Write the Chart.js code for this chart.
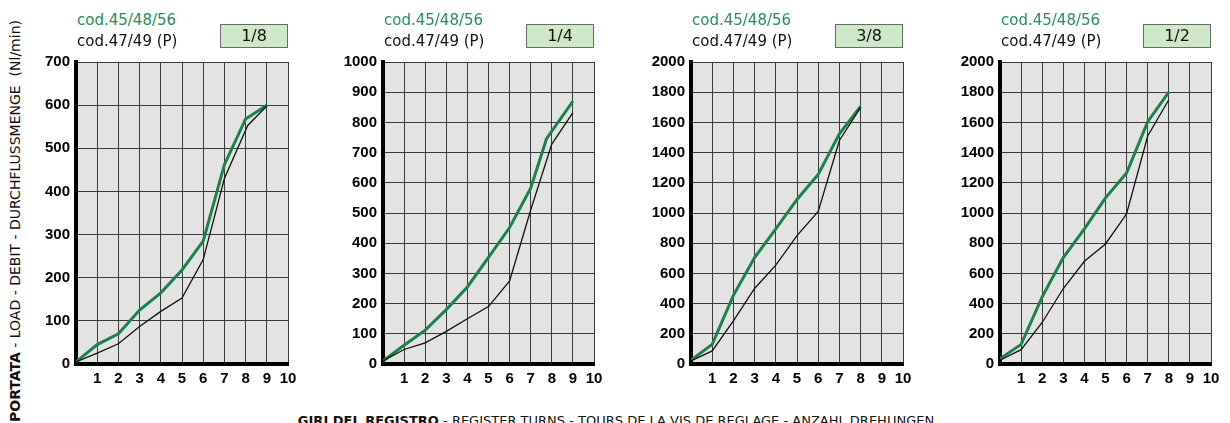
<!DOCTYPE html>
<html>
<head>
<meta charset="utf-8">
<script src="https://cdn.jsdelivr.net/npm/chart.js@4.4.1/dist/chart.umd.min.js"></script>
<style>
  html, body { margin: 0; padding: 0; background: #fff; }
  body { width: 1230px; height: 423px; position: relative; overflow: hidden; font-family: "DejaVu Sans", sans-serif; }
  .wrap { position: absolute; }
  .cod1 { position: absolute; font-size: 15px; color: #23905a; white-space: nowrap; line-height: 18px; }
  .cod2 { position: absolute; font-size: 15px; color: #111; white-space: nowrap; line-height: 18px; }
  .box { position: absolute; width: 66px; height: 22px; background: #cfe8c9; border: 1px solid #6a6a6a; font-size: 16px; line-height: 22px; text-align: center; color: #111; }
  .ytitle { position: absolute; width: 440px; height: 18px; line-height: 18px; font-size: 14px; text-align: center; white-space: nowrap; transform: rotate(-90deg); color: #111; }
  .xtitle { position: absolute; width: 800px; font-size: 13px; line-height: 16px; text-align: center; white-space: nowrap; color: #111; }
</style>
</head>
<body>
<div class="ytitle" id="ytitle" style="left:-205px; top:212px;"><b>PORTATA</b> - LOAD - DEBIT - DURCHFLUSSMENGE&nbsp;&nbsp;(Nl/min)</div>
<div class="xtitle" style="left:216px; top:413px;"><b>GIRI DEL REGISTRO</b> - REGISTER TURNS - TOURS DE LA VIS DE REGLAGE - ANZAHL DREHUNGEN</div>
<script>
// ---------- DATA ----------
const panelTitles = ["1/8", "1/4", "3/8", "1/2"];
const seriesGreenName = "cod.45/48/56";
const seriesBlackName = "cod.47/49 (P)";
const xTickLabels = ["", "1", "2", "3", "4", "5", "6", "7", "8", "9", "10"];

const yMax = [700, 1000, 2000, 2000];
const yStep = [100, 100, 200, 200];

// panel 1/8
const p1GreenX = [0, 1, 2, 3, 4, 5, 6, 7, 8, 9];
const p1Green  = [5, 45, 70, 125, 165, 218, 285, 462, 568, 600];
const p1BlackX = [0, 1, 2, 3, 4, 5, 6, 7, 8.1, 9];
const p1Black  = [5, 25, 47, 87, 122, 153, 242, 430, 553, 598];

// panel 1/4
const p2GreenX = [0, 1, 2, 3, 4, 5, 6, 7, 7.75, 9];
const p2Green  = [10, 62, 112, 180, 255, 353, 452, 582, 746, 870];
const p2BlackX = [0, 1, 2, 3, 4, 5, 6, 7, 8, 9];
const p2Black  = [10, 48, 70, 108, 150, 190, 275, 510, 728, 832];

// panel 3/8
const p3GreenX = [0, 1, 2, 3, 4, 5, 6, 7, 8];
const p3Green  = [25, 130, 455, 705, 895, 1090, 1255, 1525, 1705];
const p3BlackX = [0, 1, 2, 3, 4, 5, 6, 7, 8];
const p3Black  = [20, 87, 285, 500, 655, 850, 1010, 1480, 1700];

// panel 1/2
const p4GreenX = [0, 1, 2, 3, 4, 5, 6, 7, 8];
const p4Green  = [35, 130, 445, 705, 895, 1100, 1265, 1605, 1800];
const p4BlackX = [0, 1, 2, 3, 4, 5, 6, 7, 8];
const p4Black  = [25, 95, 275, 500, 680, 795, 995, 1510, 1750];

const greenXs = [p1GreenX, p2GreenX, p3GreenX, p4GreenX];
const greenYs = [p1Green, p2Green, p3Green, p4Green];
const blackXs = [p1BlackX, p2BlackX, p3BlackX, p4BlackX];
const blackYs = [p1Black, p2Black, p3Black, p4Black];

// ---------- LAYOUT ----------
const plotLeft  = [76, 383, 691, 1000];
const plotRight = [288, 594, 903, 1211];
const plotTop = 57, plotBottom = 364;
const YW = 60, XH = 26, PT = 10, PR = 22;

const bgPlugin = {
  id: 'plotBg',
  beforeDraw(chart) {
    const a = chart.chartArea, c = chart.ctx;
    c.save(); c.fillStyle = '#e3e3e3';
    c.fillRect(a.left, a.top, a.right - a.left, a.bottom - a.top);
    c.restore();
  }
};

function toPts(xs, ys) { return xs.map((x, i) => ({ x: x, y: ys[i] })); }

const tickFont = { family: '"Liberation Sans", Arial, sans-serif', weight: 'bold', size: 15 };

for (let p = 0; p < 4; p++) {
  const w = plotRight[p] - plotLeft[p] + YW + PR;
  const h = plotBottom - plotTop + PT + XH;
  const div = document.createElement('div');
  div.className = 'wrap';
  div.style.left = (plotLeft[p] - YW) + 'px';
  div.style.top = (plotTop - PT) + 'px';
  div.style.width = w + 'px';
  div.style.height = h + 'px';
  const cv = document.createElement('canvas');
  cv.width = w; cv.height = h;
  cv.style.width = w + 'px'; cv.style.height = h + 'px';
  div.appendChild(cv);
  document.body.appendChild(div);

  const l1 = document.createElement('div');
  l1.className = 'cod1'; l1.textContent = seriesGreenName;
  l1.style.left = (plotLeft[p] + 1) + 'px'; l1.style.top = '11px';
  document.body.appendChild(l1);
  const l2 = document.createElement('div');
  l2.className = 'cod2'; l2.textContent = seriesBlackName;
  l2.style.left = (plotLeft[p] + 1) + 'px'; l2.style.top = '32px';
  document.body.appendChild(l2);
  const bx = document.createElement('div');
  bx.className = 'box'; bx.textContent = panelTitles[p];
  bx.style.left = (plotRight[p] - 68) + 'px'; bx.style.top = '24px';
  document.body.appendChild(bx);

  new Chart(cv, {
    type: 'line',
    data: {
      datasets: [
        { label: seriesBlackName, data: toPts(blackXs[p], blackYs[p]), borderColor: '#111', borderWidth: 1.3, pointRadius: 0, tension: 0, fill: false },
        { label: seriesGreenName, data: toPts(greenXs[p], greenYs[p]), borderColor: '#1b8249', borderWidth: 3, pointRadius: 0, tension: 0, fill: false }
      ]
    },
    options: {
      responsive: false,
      devicePixelRatio: 1,
      animation: false,
      layout: { padding: { top: PT, right: PR, left: 0, bottom: 0 } },
      plugins: { legend: { display: false }, tooltip: { enabled: false } },
      scales: {
        x: {
          type: 'linear', min: 0, max: 10,
          afterFit(s) { s.height = XH; },
          grid: { color: '#3a3a3a', lineWidth: 1, drawTicks: false },
          border: { display: true, color: '#000', width: 4 },
          ticks: {
            stepSize: 1, padding: 6, color: '#000',
            maxRotation: 0, minRotation: 0, autoSkip: false,
            font: tickFont,
            callback: (v) => xTickLabels[v]
          }
        },
        y: {
          type: 'linear', min: 0, max: yMax[p],
          afterFit(s) { s.width = YW; },
          grid: { color: '#3a3a3a', lineWidth: 1, drawTicks: false },
          border: { display: true, color: '#000', width: 4 },
          ticks: {
            stepSize: yStep[p], padding: 6, color: '#000',
            font: tickFont,
            callback: (v) => String(v)
          }
        }
      }
    },
    plugins: [bgPlugin]
  });
}
</script>
</body>
</html>
